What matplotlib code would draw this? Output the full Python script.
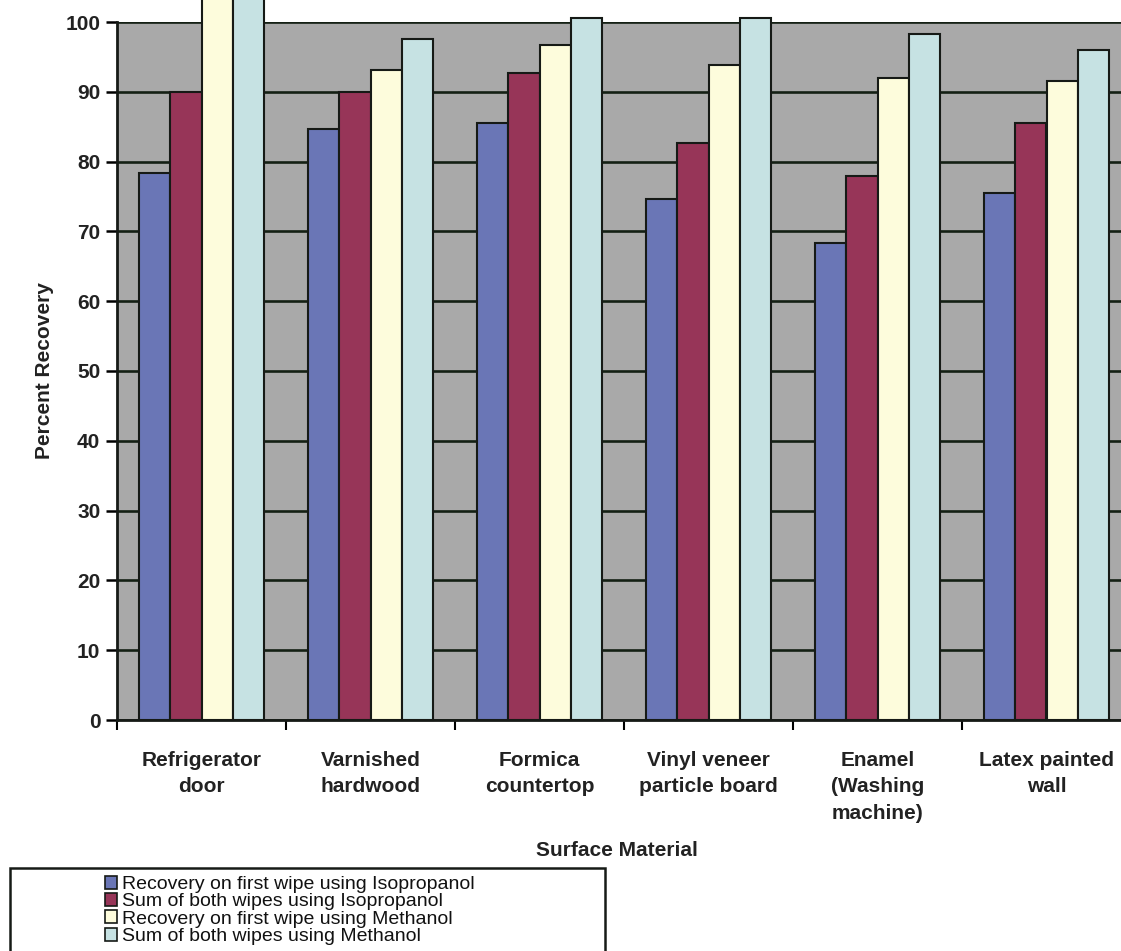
import numpy as np
import matplotlib
matplotlib.use('Agg')
import matplotlib.pyplot as plt
from matplotlib.patches import Rectangle, Patch

plt.rcParams['font.family'] = ['Liberation Sans', 'DejaVu Sans']

#------------------------------------------------------------------------------#

categories = ['Refrigerator\ndoor', 'Varnished\nhardwood', 'Formica\ncountertop',
              'Vinyl veneer\nparticle board', 'Enamel\n(Washing\nmachine)',
              'Latex painted\nwall']
series = ['Recovery on first wipe using Isopropanol',
          'Sum of both wipes using Isopropanol',
          'Recovery on first wipe using Methanol',
          'Sum of both wipes using Methanol']
iso_first = [78.3, 84.7, 85.6, 74.6, 68.3, 75.5]
iso_sum = [90.0, 89.9, 92.7, 82.6, 78.0, 85.5]
meth_first = [104.0, 93.1, 96.7, 93.9, 92.0, 91.5]
meth_sum = [104.0, 97.5, 100.6, 100.6, 98.3, 96.0]
colors = ['#6a76b6', '#973558', '#fdfcdc', '#c6e2e3']

#------------------------------------------------------------------------------#

fig = plt.figure(figsize=(11.21, 9.51), dpi=100)
W, H = 1121., 951.
ax = fig.add_axes([117/W, 1 - 720/H, 1014/W, 698/H])
ax.set_facecolor('#a9a9a9')

x = np.arange(len(categories))
bw = 0.185
for j, vals in enumerate([iso_first, iso_sum, meth_first, meth_sum]):
    bars = ax.bar(x + (j - 1.5) * bw, vals, bw, color=colors[j],
                  edgecolor='#161a16', linewidth=1.5, zorder=3,
                  label=series[j])
    for b in bars:
        b.set_clip_on(False)

ax.set_xlim(-0.5, len(categories) - 0.5)
ax.set_ylim(0, 100)
ax.set_yticks(np.arange(0, 101, 10))
ax.yaxis.grid(True, color='#142014', linewidth=1.9, zorder=1)
ax.set_axisbelow(True)

ax.set_xticks(x)
ax.set_xticklabels(categories, fontsize=15, fontweight='bold',
                   linespacing=1.5, color='#222222')
ax.set_xticks(np.arange(-0.5, len(categories)), minor=True)
ax.tick_params(axis='x', which='major', length=0, pad=22)
ax.tick_params(axis='x', which='minor', length=7, width=1.5, direction='out')
ax.tick_params(axis='y', length=8, width=1.8, labelsize=15, pad=4,
               labelcolor='#222222')
for lbl in ax.get_yticklabels():
    lbl.set_fontweight('bold')
for lbl in ax.get_xticklabels():
    lbl.set_verticalalignment('top')

for s in ['top', 'right']:
    ax.spines[s].set_visible(False)
for s in ['left', 'bottom']:
    ax.spines[s].set_linewidth(2)
    ax.spines[s].set_color('#161a16')

ax.set_ylabel('Percent Recovery', fontsize=15, fontweight='bold',
              color='#222222', labelpad=8)
fig.text(617/W, 1 - 850/H, 'Surface Material', fontsize=15, fontweight='bold',
         color='#222222', ha='center', va='center')

# legend box
fig.patches.append(Rectangle((10/W, 1 - 960/H), 595/W, 92/H,
                             transform=fig.transFigure, facecolor='white',
                             edgecolor='#161a16', linewidth=1.8))
handles = [Patch(facecolor=c, edgecolor='#161a16', linewidth=1.2) for c in colors]
fig.legend(handles, series, loc='upper left',
           bbox_to_anchor=(95/W, 1 - 866/H), frameon=False, fontsize=14,
           handlelength=0.65, handleheight=0.65, handletextpad=0.25,
           labelspacing=0.0, borderpad=0, labelcolor='#111111')

fig.savefig('out.png', dpi=100)
